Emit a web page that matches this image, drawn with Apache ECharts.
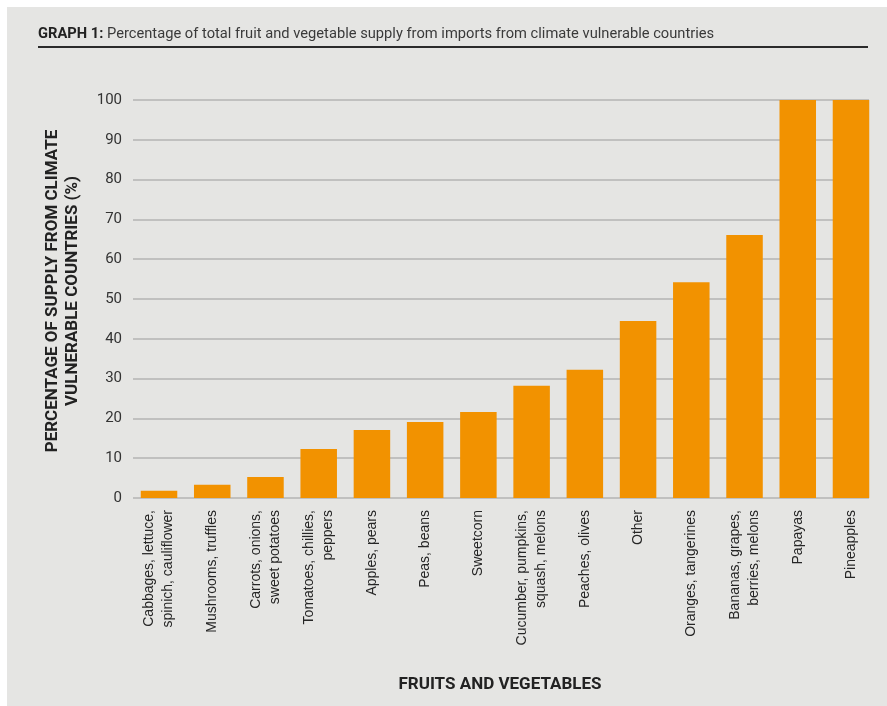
<!DOCTYPE html>
<html>
<head>
<meta charset="utf-8">
<style>
  html, body { margin: 0; padding: 0; background: #ffffff; }
  #chart { width: 887px; height: 706px; }
</style>
<script src="https://cdn.jsdelivr.net/npm/echarts@6/dist/echarts.min.js"></script>
</head>
<body>
<div id="chart"></div>
<script>
// Fruit and vegetable groups, ordered by share of supply
const categories = [
  'Cabbages, lettuce,\nspinich, cauliflower',
  'Mushrooms, truffles',
  'Carrots, onions,\nsweet potatoes',
  'Tomatoes, chillies,\npeppers',
  'Apples, pears',
  'Peas, beans',
  'Sweetcorn',
  'Cucumber, pumpkins,\nsquash, melons',
  'Peaches, olives',
  'Other',
  'Oranges, tangerines',
  'Bananas, grapes,\nberries, melons',
  'Papayas',
  'Pineapples'
];

// Share of supply imported from climate vulnerable countries (%)
const shareValues = [1.8, 3.3, 5.3, 12.3, 17.1, 19.1, 21.6, 28.2, 32.2, 44.5, 54.2, 66.1, 100, 100];

// Value axis ticks
const yTicks = [0, 10, 20, 30, 40, 50, 60, 70, 80, 90, 100];

const titleLead = 'GRAPH 1:';
const titleText = 'Percentage of total fruit and vegetable supply from imports from climate vulnerable countries';
const yTitle = 'PERCENTAGE OF SUPPLY FROM CLIMATE\nVULNERABLE COUNTRIES (%)';
const xTitle = 'FRUITS AND VEGETABLES';

const chart = echarts.init(document.getElementById('chart'), null, { renderer: 'canvas' });

const gridTop = 100, gridHeight = 398;
const yMin = yTicks[0], yMax = yTicks[yTicks.length - 1], yStep = yTicks[1] - yTicks[0];

chart.setOption({
  backgroundColor: 'transparent',
  animation: false,
  graphic: [
    { type: 'rect', left: 7, top: 7, z: -10,
      shape: { width: 880, height: 699 },
      style: { fill: '#e5e5e3' } },
    { type: 'line', z: 5,
      shape: { x1: 38, y1: 47, x2: 868, y2: 47 },
      style: { stroke: '#2b2b2b', lineWidth: 2 } }
  ],
  title: {
    left: 38, top: 27, padding: 0,
    text: '{b|' + titleLead + '} ' + titleText,
    textStyle: {
      fontFamily: 'Roboto', fontSize: 14.7, color: '#3a3a3a', fontWeight: 'normal',
      rich: { b: { fontFamily: 'Roboto', fontSize: 14.7, fontWeight: 'bold', color: '#222' } }
    }
  },
  grid: [
    // bars
    { left: 132.4, width: 745.2, top: gridTop, height: gridHeight },
    // value gridlines and labels
    { left: 133, width: 736, top: gridTop, height: gridHeight }
  ],
  xAxis: [
    {
      gridIndex: 0,
      type: 'category',
      data: categories,
      axisLine: { show: false },
      axisTick: { show: false },
      axisLabel: {
        interval: 0, rotate: 90, margin: 12,
        fontFamily: 'Liberation Sans', fontSize: 14, lineHeight: 19, color: '#262626'
      },
      name: xTitle,
      nameLocation: 'middle',
      nameGap: 178,
      nameTextStyle: { fontFamily: 'Roboto', fontWeight: 'bold', fontSize: 17, color: '#222', padding: [0, 10, 0, 0] }
    },
    {
      gridIndex: 1, type: 'value', min: 0, max: 1, show: false
    }
  ],
  yAxis: [
    { gridIndex: 0, type: 'value', min: yMin, max: yMax, show: false },
    {
      gridIndex: 1,
      type: 'value',
      min: yMin, max: yMax, interval: yStep,
      axisLine: { show: false },
      axisTick: { show: false },
      splitLine: { show: true, lineStyle: { color: '#b3b3b3', width: 1.6 } },
      axisLabel: { margin: 11, fontFamily: 'Roboto', fontSize: 15, color: '#333' },
      name: yTitle,
      nameLocation: 'middle',
      nameGap: 50,
      nameTextStyle: {
        fontFamily: 'Roboto', fontWeight: 'bold', fontSize: 17, lineHeight: 20,
        color: '#222', align: 'center', padding: [0, 0, 0, 16]
      }
    }
  ],
  series: [
    {
      type: 'bar',
      xAxisIndex: 0, yAxisIndex: 0,
      data: shareValues,
      barWidth: '68.6%',
      itemStyle: { color: '#f29200' },
      z: 3
    }
  ]
});
</script>
</body>
</html>
